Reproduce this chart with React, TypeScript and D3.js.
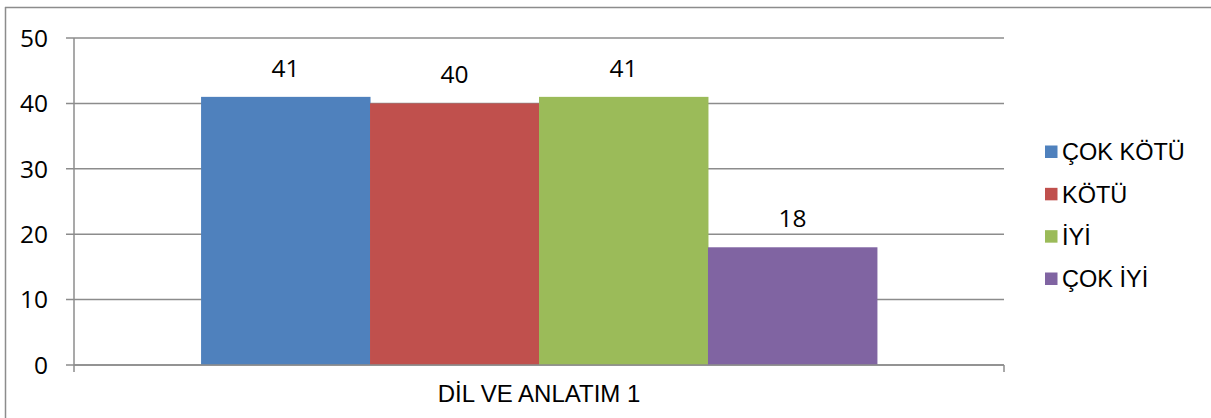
import React from "react";
import * as d3 from "d3";

const categories = ["DİL VE ANLATIM 1"];
const seriesNames = ["ÇOK KÖTÜ", "KÖTÜ", "İYİ", "ÇOK İYİ"];
const seriesValues = [41, 40, 41, 18];
const seriesColors = ["#4f81bd", "#c0504d", "#9bbb59", "#8064a2"];
const yTicks = [0, 10, 20, 30, 40, 50];

const W = 1211;
const H = 418;
const plot = { left: 74, right: 1004, top: 38, bottom: 365 };
const grid = "#8c8c8c";
const numFont = "'Open Sans', Lato, sans-serif";
const textFont = "'Liberation Sans', Arial, sans-serif";

export default function App() {
  const y = d3.scaleLinear().domain([0, 50]).range([plot.bottom, plot.top]);
  const x0 = d3
    .scaleBand<string>()
    .domain(categories)
    .range([plot.left, plot.right])
    .paddingInner(0)
    .paddingOuter(0.188);
  const x1 = d3
    .scaleBand<string>()
    .domain(seriesNames)
    .range([0, x0.bandwidth()])
    .padding(0);

  const legendY = d3.scalePoint<string>().domain(seriesNames).range([152, 279]);

  return (
    <svg
      width={W}
      height={H}
      style={{ position: "absolute", left: 0, top: 0, background: "#fff" }}
    >
      <line x1={5} x2={W} y1={7.5} y2={7.5} stroke={grid} strokeWidth={1.5} />
      <line x1={5.5} x2={5.5} y1={7} y2={H} stroke={grid} strokeWidth={1.5} />

      {yTicks.map((t) => (
        <g key={t}>
          <line
            x1={plot.left - 8}
            x2={plot.right}
            y1={y(t)}
            y2={y(t)}
            stroke={grid}
            strokeWidth={1.5}
          />
          <text
            x={48}
            y={y(t)}
            dy="0.36em"
            textAnchor="end"
            fontFamily={numFont}
            fontSize={24.5}
            fill="#000"
          >
            {t}
          </text>
        </g>
      ))}

      <line
        x1={plot.left}
        x2={plot.left}
        y1={plot.top}
        y2={plot.bottom + 7}
        stroke={grid}
        strokeWidth={1.5}
      />
      <line
        x1={plot.right}
        x2={plot.right}
        y1={plot.bottom}
        y2={plot.bottom + 7}
        stroke={grid}
        strokeWidth={1.5}
      />

      {categories.map((c) => (
        <g key={c} transform={`translate(${x0(c)},0)`}>
          {seriesNames.map((s, i) => (
            <g key={s}>
              <rect
                x={x1(s)}
                y={y(seriesValues[i])}
                width={x1.bandwidth() + 0.5}
                height={y(0) - y(seriesValues[i])}
                fill={seriesColors[i]}
              />
              <text
                x={(x1(s) as number) + x1.bandwidth() / 2}
                y={y(seriesValues[i]) - 20}
                textAnchor="middle"
                fontFamily={numFont}
                fontSize={24.5}
                fill="#000"
              >
                {seriesValues[i]}
              </text>
            </g>
          ))}
        </g>
      ))}

      <line
        x1={plot.left}
        x2={plot.right}
        y1={plot.bottom}
        y2={plot.bottom}
        stroke={grid}
        strokeWidth={1.5}
      />

      {categories.map((c) => (
        <text
          key={c}
          x={(x0(c) as number) + x0.bandwidth() / 2}
          y={402}
          textAnchor="middle"
          fontFamily={textFont}
          fontSize={24}
          fill="#000"
        >
          {c}
        </text>
      ))}

      {seriesNames.map((s, i) => (
        <g key={s} transform={`translate(1045,${legendY(s)})`}>
          <rect x={0} y={-6.5} width={12.5} height={12.5} fill={seriesColors[i]} />
          <text
            x={17}
            y={0}
            dy="0.36em"
            fontFamily={textFont}
            fontSize={23.5}
            fill="#000"
          >
            {s}
          </text>
        </g>
      ))}
    </svg>
  );
}
